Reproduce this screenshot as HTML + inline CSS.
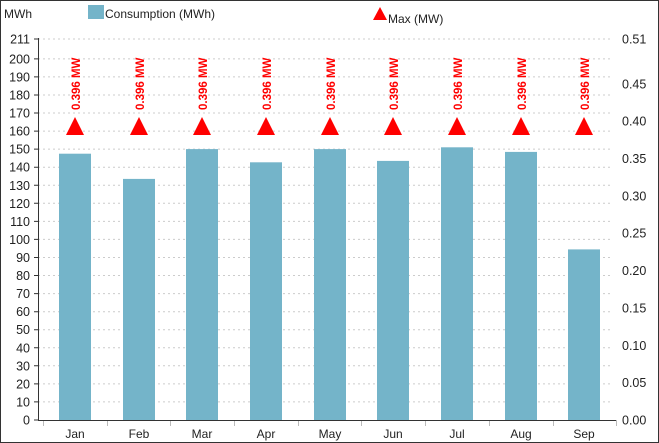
<!DOCTYPE html><html><head><style>body{margin:0;background:#fff}svg{display:block}text{font-family:"Liberation Sans",sans-serif}</style></head><body>
<svg width="659" height="443" xmlns="http://www.w3.org/2000/svg">
<rect x="0.5" y="0.5" width="658" height="442" fill="#fff" stroke="#333"/>
<text x="4" y="18" font-size="12" fill="#222">MWh</text>
<rect x="88" y="5" width="16" height="14" fill="#74b4c9"/>
<text x="105" y="18" font-size="12" fill="#222">Consumption (MWh)</text>
<polygon points="380,7 373,20 387,20" fill="#f00"/>
<text x="388" y="23" font-size="12" fill="#222">Max (MW)</text>
<g stroke="#ccc" stroke-dasharray="2,3">
<path d="M38 401.9H613M38 383.9H613M38 365.8H613M38 347.8H613M38 329.7H613M38 311.7H613M38 293.6H613M38 275.5H613M38 257.5H613M38 239.4H613M38 221.4H613M38 203.3H613M38 185.3H613M38 167.2H613M38 149.1H613M38 131.1H613M38 113H613M38 95H613M38 76.9H613M38 58.9H613M38 39H613"/>
</g>
<g font-size="12.5" fill="#222" text-anchor="end">
<text x="30" y="424.5">0</text><text x="30" y="406.4">10</text><text x="30" y="388.4">20</text><text x="30" y="370.3">30</text><text x="30" y="352.3">40</text><text x="30" y="334.2">50</text><text x="30" y="316.2">60</text><text x="30" y="298.1">70</text><text x="30" y="280">80</text><text x="30" y="262">90</text><text x="30" y="243.9">100</text><text x="30" y="225.9">110</text><text x="30" y="207.8">120</text><text x="30" y="189.8">130</text><text x="30" y="171.7">140</text><text x="30" y="153.6">150</text><text x="30" y="135.6">160</text><text x="30" y="117.5">170</text><text x="30" y="99.5">180</text><text x="30" y="81.4">190</text><text x="30" y="63.4">200</text><text x="30" y="43.5">211</text>
</g>
<g font-size="12.5" fill="#222">
<text x="622" y="424.5">0.00</text><text x="622" y="387.1">0.05</text><text x="622" y="349.8">0.10</text><text x="622" y="312.4">0.15</text><text x="622" y="275.1">0.20</text><text x="622" y="237.7">0.25</text><text x="622" y="200.4">0.30</text><text x="622" y="163">0.35</text><text x="622" y="125.7">0.40</text><text x="622" y="88.3">0.45</text><text x="622" y="43.5">0.51</text>
</g>
<g fill="#74b4c9">
<rect x="59" y="153.7" width="32" height="266.3"/>
<rect x="123" y="178.9" width="32" height="241.1"/>
<rect x="186" y="149.1" width="32" height="270.9"/>
<rect x="250" y="162.3" width="32" height="257.7"/>
<rect x="314" y="149.1" width="32" height="270.9"/>
<rect x="377" y="160.9" width="32" height="259.1"/>
<rect x="441" y="147.3" width="32" height="272.7"/>
<rect x="505" y="151.9" width="32" height="268.1"/>
<rect x="568" y="249.4" width="32" height="170.6"/>
</g>
<g fill="#f00">
<polygon points="75,117 66,135 84,135"/><polygon points="139,117 130,135 148,135"/><polygon points="202,117 193,135 211,135"/><polygon points="266,117 257,135 275,135"/><polygon points="330,117 321,135 339,135"/><polygon points="393,117 384,135 402,135"/><polygon points="457,117 448,135 466,135"/><polygon points="521,117 512,135 530,135"/><polygon points="584,117 575,135 593,135"/>
</g>
<g font-size="11.5" font-weight="bold" fill="#f00">
<text transform="translate(80,110) rotate(-90)">0.396 MW</text>
<text transform="translate(144,110) rotate(-90)">0.396 MW</text>
<text transform="translate(207,110) rotate(-90)">0.396 MW</text>
<text transform="translate(271,110) rotate(-90)">0.396 MW</text>
<text transform="translate(335,110) rotate(-90)">0.396 MW</text>
<text transform="translate(398,110) rotate(-90)">0.396 MW</text>
<text transform="translate(462,110) rotate(-90)">0.396 MW</text>
<text transform="translate(526,110) rotate(-90)">0.396 MW</text>
<text transform="translate(589,110) rotate(-90)">0.396 MW</text>
</g>
<g font-size="12" fill="#222" text-anchor="middle">
<text x="75" y="438">Jan</text><text x="139" y="438">Feb</text><text x="202" y="438">Mar</text><text x="266" y="438">Apr</text><text x="330" y="438">May</text><text x="393" y="438">Jun</text><text x="457" y="438">Jul</text><text x="521" y="438">Aug</text><text x="584" y="438">Sep</text>
</g>
<path d="M43.5 420V426M107.5 420V426M170.5 420V426M234.5 420V426M298.5 420V426M361.5 420V426M425.5 420V426M489.5 420V426M553.5 420V426M616.5 420V426" stroke="#bbb"/>
<path d="M38.5 38V420.5H616" stroke="#333" fill="none"/>
<path d="M34 420H38M34 401.9H38M34 383.9H38M34 365.8H38M34 347.8H38M34 329.7H38M34 311.7H38M34 293.6H38M34 275.5H38M34 257.5H38M34 239.4H38M34 221.4H38M34 203.3H38M34 185.3H38M34 167.2H38M34 149.1H38M34 131.1H38M34 113H38M34 95H38M34 76.9H38M34 58.9H38M34 39H38" stroke="#333"/>
</svg></body></html>
